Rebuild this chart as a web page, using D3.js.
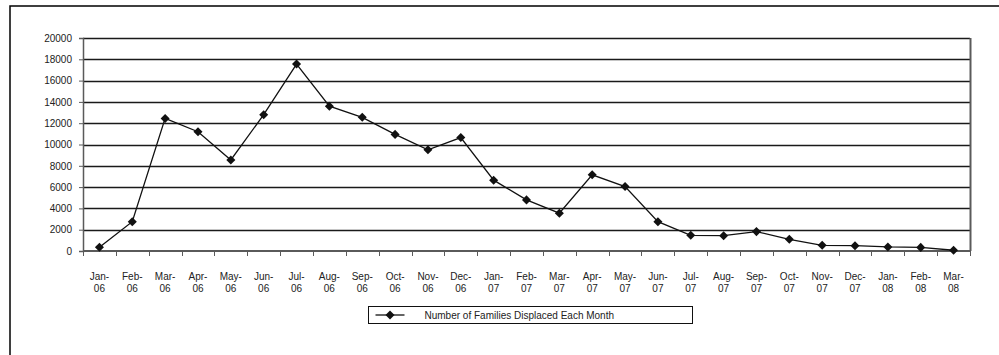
<!DOCTYPE html>
<html>
<head>
<meta charset="utf-8">
<script src="https://cdn.jsdelivr.net/npm/d3@7"></script>
<style>
  body { margin: 0; background: #fff; }
  svg { display: block; font-family: "Liberation Sans", Arial, sans-serif; }
</style>
</head>
<body>
<svg id="chart" width="999" height="355"></svg>
<script>
// data
const months = ["Jan-06","Feb-06","Mar-06","Apr-06","May-06","Jun-06","Jul-06","Aug-06","Sep-06",
  "Oct-06","Nov-06","Dec-06","Jan-07","Feb-07","Mar-07","Apr-07","May-07","Jun-07","Jul-07",
  "Aug-07","Sep-07","Oct-07","Nov-07","Dec-07","Jan-08","Feb-08","Mar-08"];
const families = [350, 2750, 12450, 11200, 8550, 12800, 17550, 13600, 12550, 10950, 9500, 10650,
  6650, 4800, 3550, 7150, 6050, 2750, 1470, 1440, 1820, 1100, 530, 500, 380, 340, 70];
const yTicks = [0, 2000, 4000, 6000, 8000, 10000, 12000, 14000, 16000, 18000, 20000];
const seriesName = "Number of Families Displaced Each Month";

const svg = d3.select("#chart");
const margin = { top: 38, left: 83, right: 29, bottom: 104 };
const width = 999 - margin.left - margin.right;
const height = 355 - margin.top - margin.bottom;

// outer frame (cropped on the right and bottom)
svg.append("rect")
   .attr("x", 10).attr("y", 6)
   .attr("width", 1000).attr("height", 400)
   .attr("fill", "none").attr("stroke", "#000").attr("stroke-width", 1.5);

const g = svg.append("g").attr("transform", `translate(${margin.left},${margin.top})`);

const x = d3.scaleBand().domain(months).range([0, width]);
const y = d3.scaleLinear().domain([0, 20000]).range([height, 0]);

// gridlines
g.append("g")
 .selectAll("line")
 .data(yTicks.filter(d => d > 0))
 .join("line")
 .attr("x1", 0).attr("x2", width)
 .attr("y1", d => Math.round(y(d)) + 0.5).attr("y2", d => Math.round(y(d)) + 0.5)
 .attr("stroke", "#1a1a1a").attr("stroke-width", 1.3);

// right border of plot
g.append("line")
 .attr("x1", width + 0.5).attr("x2", width + 0.5)
 .attr("y1", 0).attr("y2", height)
 .attr("stroke", "#5a5a5a").attr("stroke-width", 2);

// y axis
const yAxis = g.append("g")
 .call(d3.axisLeft(y).tickValues(yTicks).tickSize(4).tickPadding(7).tickFormat(d3.format("d")));
yAxis.select(".domain").attr("stroke", "#5a5a5a").attr("stroke-width", 1.5);
yAxis.selectAll(".tick line").attr("stroke", "#5a5a5a");
yAxis.selectAll("text").attr("font-size", 10).attr("fill", "#222");

// x axis
const xAxis = g.append("g").attr("transform", `translate(0,${height})`);
xAxis.append("line")
 .attr("x1", 0).attr("x2", width).attr("y1", 0).attr("y2", 0)
 .attr("stroke", "#5a5a5a").attr("stroke-width", 2);
xAxis.selectAll("line.tk")
 .data(d3.range(months.length + 1))
 .join("line").attr("class", "tk")
 .attr("x1", i => Math.round(i * x.step()) + 0.5).attr("x2", i => Math.round(i * x.step()) + 0.5)
 .attr("y1", 0).attr("y2", 5)
 .attr("stroke", "#5a5a5a");
const lbl = xAxis.selectAll("text")
 .data(months)
 .join("text")
 .attr("text-anchor", "middle")
 .attr("font-size", 10)
 .attr("fill", "#222");
lbl.append("tspan")
 .attr("x", d => x(d) + x.bandwidth() / 2).attr("y", 29)
 .text(d => d.split("-")[0] + "-");
lbl.append("tspan")
 .attr("x", d => x(d) + x.bandwidth() / 2).attr("y", 41)
 .text(d => d.split("-")[1]);

// series line
const line = d3.line()
 .x((d, i) => x(months[i]) + x.bandwidth() / 2)
 .y(d => y(d));
g.append("path")
 .datum(families)
 .attr("fill", "none").attr("stroke", "#111").attr("stroke-width", 1.3)
 .attr("d", line);

const diamond = d3.symbol().type(d3.symbolDiamond2).size(52);
g.selectAll("path.pt")
 .data(families)
 .join("path").attr("class", "pt")
 .attr("transform", (d, i) => `translate(${x(months[i]) + x.bandwidth() / 2},${y(d)})`)
 .attr("d", diamond)
 .attr("fill", "#111");

// legend
const lg = svg.append("g").attr("transform", "translate(368.5,306.5)");
lg.append("rect").attr("width", 324).attr("height", 17)
  .attr("fill", "#fff").attr("stroke", "#111").attr("stroke-width", 1);
lg.append("line").attr("x1", 7).attr("x2", 36).attr("y1", 8.5).attr("y2", 8.5)
  .attr("stroke", "#111").attr("stroke-width", 1.3);
lg.append("path").attr("transform", "translate(21.5,8.5)").attr("d", diamond).attr("fill", "#111");
lg.append("text").attr("x", 56).attr("y", 12.5)
  .attr("font-size", 10).attr("fill", "#222").text(seriesName);
</script>
</body>
</html>
